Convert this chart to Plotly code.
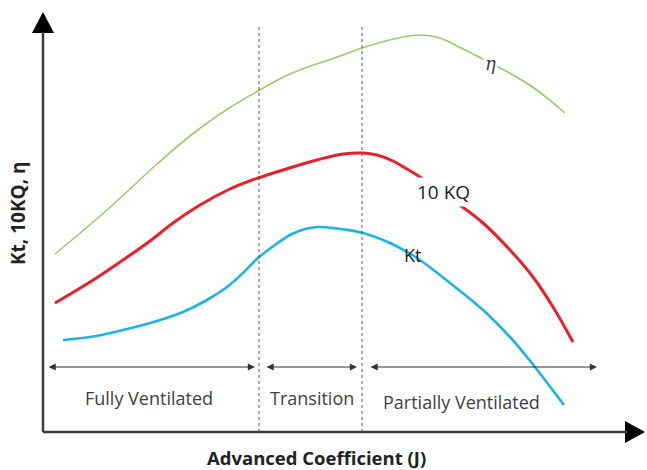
import plotly.graph_objects as go

# Advance coefficient J (arbitrary units) and coefficient values for each curve
eta_J = [0.12, 0.64, 1.14, 1.47, 1.80, 2.15, 2.47, 2.97, 3.19, 3.51, 3.77, 3.97, 4.14, 4.34, 4.61, 4.91, 5.22]
eta_V = [1.78, 2.22, 2.68, 2.96, 3.20, 3.41, 3.58, 3.76, 3.84, 3.93, 3.97, 3.94, 3.86, 3.76, 3.62, 3.44, 3.19]

kq_J = [0.12, 0.47, 0.80, 1.07, 1.30, 1.57, 1.87, 2.15, 2.40, 2.74, 3.00, 3.20, 3.34, 3.50, 3.64, 3.77,
        4.14, 4.40, 4.67, 4.90, 5.10, 5.30]
kq_V = [1.29, 1.50, 1.72, 1.91, 2.09, 2.27, 2.43, 2.54, 2.62, 2.72, 2.78, 2.79, 2.77, 2.71, 2.63, 2.55,
        2.29, 2.09, 1.82, 1.55, 1.25, 0.90]

kt_J = [0.20, 0.47, 0.80, 1.14, 1.40, 1.64, 1.84, 2.00, 2.15, 2.32, 2.47, 2.62, 2.75, 2.90, 3.20, 3.47,
        3.64, 3.77, 4.07, 4.40, 4.67, 4.84, 5.02, 5.21]
kt_V = [0.92, 0.95, 1.02, 1.11, 1.20, 1.32, 1.45, 1.59, 1.74, 1.87, 1.97, 2.03, 2.05, 2.04, 1.99, 1.89,
        1.80, 1.72, 1.49, 1.22, 0.95, 0.75, 0.52, 0.27]

# Regime boundaries and region labels
boundaries = [2.16, 3.19]
regions = ["Fully Ventilated", "Transition", "Partially Ventilated"]
region_spans = [(0.04, 2.12), (2.22, 3.14), (3.26, 5.54)]
region_label_x = [1.06, 2.69, 4.18]
region_label_y = [0.34, 0.34, 0.30]
arrow_level = 0.65

# Axis frame extents
x_end, y_end = 6.02, 4.20
axis_color = "#3c3c3c"
text_color = "#404040"
label_font = "Open Sans"

fig = go.Figure()

# axis lines
fig.add_shape(type="line", x0=0, y0=0, x1=5.84, y1=0, line=dict(color=axis_color, width=2.5))
fig.add_shape(type="line", x0=0, y0=0, x1=0, y1=4.0, line=dict(color=axis_color, width=2.5))

# arrowheads on the axes
fig.add_trace(go.Scatter(x=[5.82, x_end, 5.82, 5.82], y=[0.11, 0, -0.11, 0.11], fill="toself",
                         fillcolor="black", line=dict(color="black", width=0), mode="lines",
                         hoverinfo="skip", showlegend=False))
fig.add_trace(go.Scatter(x=[-0.11, 0, 0.11, -0.11], y=[3.99, y_end, 3.99, 3.99], fill="toself",
                         fillcolor="black", line=dict(color="black", width=0), mode="lines",
                         hoverinfo="skip", showlegend=False))

# regime boundaries
for b, top in zip(boundaries, [4.07, 4.05]):
    fig.add_shape(type="line", x0=b, y0=0, x1=b, y1=top,
                  line=dict(color="#555555", width=1, dash="dot"))

# curves
fig.add_trace(go.Scatter(x=eta_J, y=eta_V, mode="lines",
                         line=dict(color="#9CCB6E", width=1.6, shape="spline", smoothing=1.1),
                         showlegend=False, hoverinfo="skip"))
fig.add_trace(go.Scatter(x=kq_J, y=kq_V, mode="lines",
                         line=dict(color="#E8202A", width=3, shape="spline", smoothing=1.1),
                         showlegend=False, hoverinfo="skip"))
fig.add_trace(go.Scatter(x=kt_J, y=kt_V, mode="lines",
                         line=dict(color="#1EB3E6", width=2.6, shape="spline", smoothing=1.1),
                         showlegend=False, hoverinfo="skip"))

# curve labels
fig.add_annotation(x=4.47, y=3.69, text="<i>η</i>", showarrow=False, bgcolor="white",
                   font=dict(family="DejaVu Serif", size=18, color=text_color))
fig.add_annotation(x=4.00, y=2.40, text="10 KQ", showarrow=False, bgcolor="white",
                   font=dict(family=label_font, size=19, color="#222222"))
fig.add_annotation(x=3.69, y=1.77, text="Kt", showarrow=False,
                   font=dict(family=label_font, size=18, color="#222222"))

# regime arrows and labels
for (a, b), name, lx, ly in zip(region_spans, regions, region_label_x, region_label_y):
    fig.add_annotation(x=b, y=arrow_level, ax=a, ay=arrow_level, axref="x", ayref="y",
                       xref="x", yref="y", text="", showarrow=True, arrowside="end+start",
                       arrowhead=2, arrowsize=1.2, arrowwidth=1.2, arrowcolor="#333333")
    fig.add_annotation(x=lx, y=ly, text=name, showarrow=False,
                       font=dict(family=label_font, size=18, color=text_color))

# axis titles
fig.add_annotation(x=2.73, y=-0.255, text="<b>Advanced Coefficient (J)</b>", showarrow=False,
                   font=dict(family=label_font, size=18.5, color="#222222"))
fig.add_annotation(x=-0.25, y=2.19, text="<b>Kt, 10KQ, η</b>", showarrow=False, textangle=-90,
                   font=dict(family=label_font, size=19, color="#222222"))

fig.update_layout(
    width=647, height=470,
    margin=dict(l=0, r=0, t=0, b=0),
    paper_bgcolor="white", plot_bgcolor="white",
    xaxis=dict(range=[-0.43, 6.04], visible=False, fixedrange=True),
    yaxis=dict(range=[-0.38, 4.32], visible=False, fixedrange=True),
)

fig.write_html("out.html")
